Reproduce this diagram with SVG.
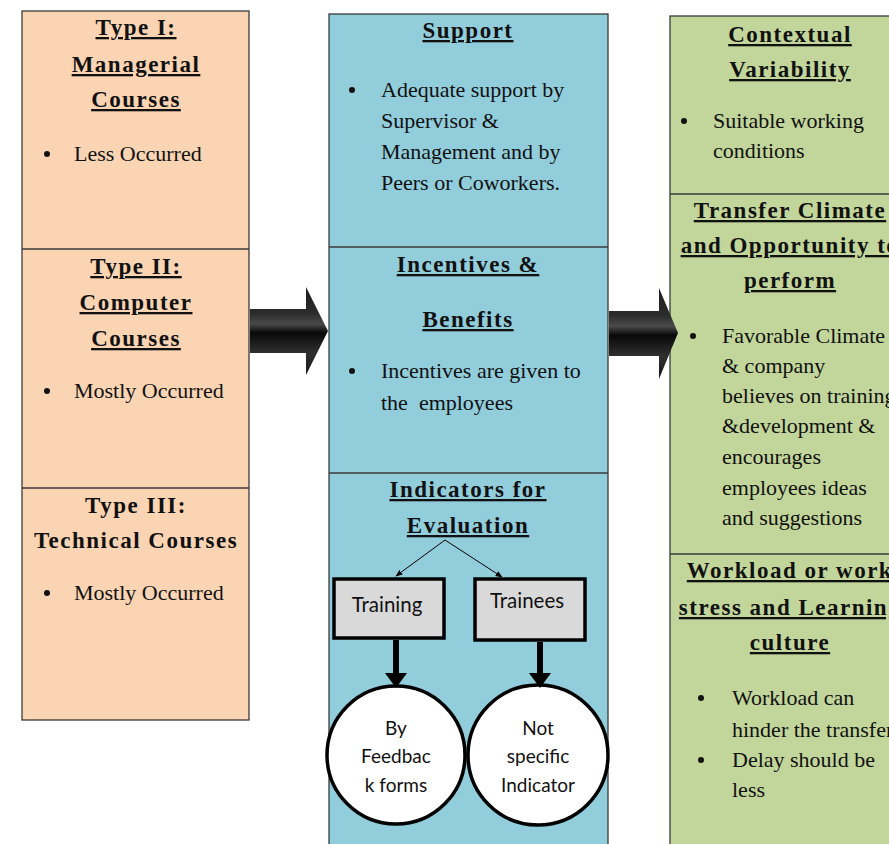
<svg xmlns="http://www.w3.org/2000/svg" width="889" height="844" viewBox="0 0 889 844">
  <style>
    .col { stroke: #3a3a3a; stroke-width: 1.3; }
    .peach { fill: #FBD4B4; }
    .blue { fill: #92CDDC; }
    .green { fill: #C2D69B; }
    .div { stroke: #3a3a3a; stroke-width: 1.3; fill: none; }
    .h { font-family: "Liberation Serif", "Times New Roman", serif; font-weight: bold; font-size: 23px; letter-spacing: 1.5px; text-anchor: middle; fill: #111; }
    .u { text-decoration: underline; }
    .b { font-family: "Liberation Serif", "Times New Roman", serif; font-size: 22px; fill: #111; }
    .dot { fill: #111; }
    .s { font-family: Lato, "Liberation Sans", sans-serif; font-size: 19px; text-anchor: middle; fill: #111; }
    .lbl { font-size: 20.5px; }
    .box { fill: #D9D9D9; stroke: #000; stroke-width: 3.5; }
    .circ { fill: #fff; stroke: #000; stroke-width: 3.5; }
    .thin { stroke: #000; stroke-width: 1; fill: none; }
    .thick { stroke: #000; stroke-width: 6; fill: none; }
  </style>
  <defs>
    <linearGradient id="arrowShade" x1="0" y1="0" x2="0" y2="1">
      <stop offset="0" stop-color="#1e1e1e"/>
      <stop offset="0.3" stop-color="#2c2c2c"/>
      <stop offset="0.42" stop-color="#4a4a4a"/>
      <stop offset="0.52" stop-color="#080808"/>
      <stop offset="0.75" stop-color="#303030"/>
      <stop offset="1" stop-color="#151515"/>
    </linearGradient>
    <marker id="tip" viewBox="0 0 10 10" refX="9" refY="5" markerWidth="7" markerHeight="7" orient="auto">
      <path d="M0,1 L10,5 L0,9 Z" fill="#000"/>
    </marker>
  </defs>

  <rect width="889" height="844" fill="#fff"/>

  <!-- Left column: course types -->
  <g id="course-types">
    <rect class="col peach" x="22" y="11" width="227" height="709"/>
    <line class="div" x1="22" y1="249" x2="249" y2="249"/>
    <line class="div" x1="22" y1="488" x2="249" y2="488"/>
  </g>
  <g id="type-1">
    <text class="h u" x="136" y="35">Type I:</text>
    <text class="h u" x="136" y="72">Managerial</text>
    <text class="h u" x="136" y="107">Courses</text>
    <circle class="dot" cx="47" cy="154" r="3"/>
    <text class="b" x="74" y="161">Less Occurred</text>
  </g>
  <g id="type-2">
    <text class="h u" x="136" y="274">Type II:</text>
    <text class="h u" x="136" y="310">Computer</text>
    <text class="h u" x="136" y="346">Courses</text>
    <circle class="dot" cx="47" cy="391" r="3"/>
    <text class="b" x="74" y="398">Mostly Occurred</text>
  </g>
  <g id="type-3">
    <text class="h" x="136" y="513">Type III:</text>
    <text class="h" x="136" y="548">Technical Courses</text>
    <circle class="dot" cx="47" cy="593" r="3"/>
    <text class="b" x="74" y="600">Mostly Occurred</text>
  </g>

  <!-- Middle column: organisational factors -->
  <g id="factors">
    <rect class="col blue" x="329" y="14" width="279" height="840"/>
    <line class="div" x1="329" y1="247" x2="608" y2="247"/>
    <line class="div" x1="329" y1="473" x2="608" y2="473"/>
  </g>
  <g id="support">
    <text class="h u" x="468" y="38">Support</text>
    <circle class="dot" cx="352" cy="90" r="3"/>
    <text class="b" x="381" y="97">Adequate support by</text>
    <text class="b" x="381" y="128">Supervisor &amp;</text>
    <text class="b" x="381" y="159">Management and by</text>
    <text class="b" x="381" y="190">Peers or Coworkers.</text>
  </g>
  <g id="incentives">
    <text class="h u" x="468" y="272">Incentives &amp;</text>
    <text class="h u" x="468" y="327">Benefits</text>
    <circle class="dot" cx="352" cy="371" r="3"/>
    <text class="b" x="381" y="378">Incentives are given to</text>
    <text class="b" x="381" y="410">the&#160; employees</text>
  </g>
  <g id="indicators">
    <text class="h u" x="468" y="497">Indicators for</text>
    <text class="h u" x="468" y="533">Evaluation</text>
  </g>
  <g id="training">
    <rect class="box" x="334" y="579" width="110" height="59"/>
    <text class="s lbl" x="387" y="612">Training</text>
  </g>
  <g id="trainees">
    <rect class="box" x="475" y="579" width="110" height="61"/>
    <text class="s lbl" x="527" y="608">Trainees</text>
  </g>
  <g id="feedback-forms">
    <circle class="circ" cx="396" cy="755" r="69"/>
    <text class="s" x="396" y="735">By</text>
    <text class="s" x="396" y="763">Feedbac</text>
    <text class="s" x="396" y="792">k forms</text>
  </g>
  <g id="no-indicator">
    <circle class="circ" cx="538" cy="755" r="70"/>
    <text class="s" x="538" y="735">Not</text>
    <text class="s" x="538" y="763">specific</text>
    <text class="s" x="538" y="792">Indicator</text>
  </g>

  <!-- Right column: transfer conditions -->
  <g id="conditions">
    <rect class="col green" x="670" y="16" width="240" height="840"/>
    <line class="div" x1="670" y1="194" x2="889" y2="194"/>
    <line class="div" x1="670" y1="554" x2="889" y2="554"/>
  </g>
  <g id="contextual">
    <text class="h u" x="790" y="42">Contextual</text>
    <text class="h u" x="790" y="77">Variability</text>
    <circle class="dot" cx="684" cy="121" r="3"/>
    <text class="b" x="713" y="128">Suitable working</text>
    <text class="b" x="713" y="158">conditions</text>
  </g>
  <g id="climate">
    <text class="h u" x="790" y="218">Transfer Climate</text>
    <text class="h u" x="790" y="253">and Opportunity to</text>
    <text class="h u" x="790" y="288">perform</text>
    <circle class="dot" cx="693" cy="336" r="3"/>
    <text class="b" x="722" y="343">Favorable Climate</text>
    <text class="b" x="722" y="373">&amp; company</text>
    <text class="b" x="722" y="403">believes on training</text>
    <text class="b" x="722" y="433">&amp;development &amp;</text>
    <text class="b" x="722" y="464">encourages</text>
    <text class="b" x="722" y="495">employees ideas</text>
    <text class="b" x="722" y="525">and suggestions</text>
  </g>
  <g id="workload">
    <text class="h u" x="790" y="578">Workload or work</text>
    <text class="h u" x="790" y="615">stress and Learning</text>
    <text class="h u" x="790" y="650">culture</text>
    <circle class="dot" cx="701" cy="698" r="3"/>
    <text class="b" x="732" y="705">Workload can</text>
    <text class="b" x="732" y="737">hinder the transfer</text>
    <circle class="dot" cx="701" cy="760" r="3"/>
    <text class="b" x="732" y="767">Delay should be</text>
    <text class="b" x="732" y="797">less</text>
  </g>

  <!-- Connectors -->
  <g id="connectors">
    <polygon points="250,309 306,309 306,287 328,331 306,375 306,353 250,353" fill="url(#arrowShade)"/>
    <polygon points="609,311 659,311 659,288 678,333 659,379 659,356 609,356" fill="url(#arrowShade)"/>
    <line class="thin" x1="445" y1="540" x2="396" y2="576" marker-end="url(#tip)"/>
    <line class="thin" x1="445" y1="540" x2="502" y2="577" marker-end="url(#tip)"/>
    <line class="thick" x1="396" y1="640" x2="396" y2="675"/>
    <polygon points="385,673 407,673 396,688" fill="#000"/>
    <line class="thick" x1="540" y1="642" x2="540" y2="675"/>
    <polygon points="529,673 551,673 540,688" fill="#000"/>
  </g>
</svg>
